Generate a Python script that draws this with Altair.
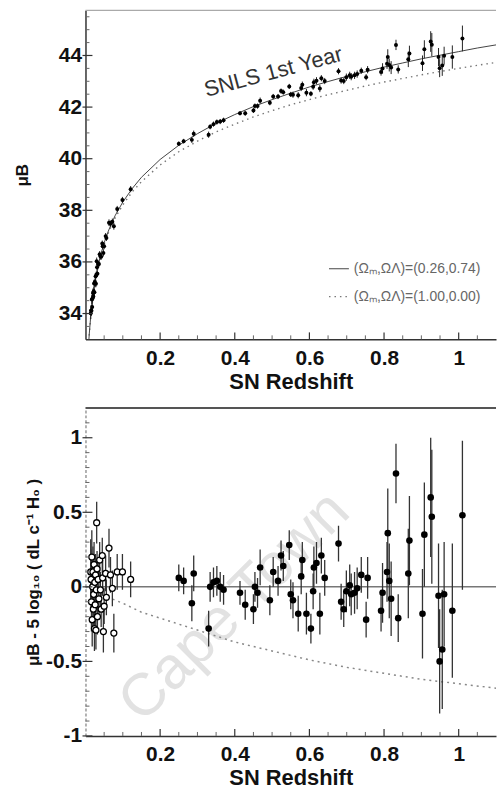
import altair as alt
import pandas as pd

# ---------------- data ----------------
# nearby (low-z) supernovae: redshift, residual, error, distance modulus
near_z = [0.014, 0.015, 0.016, 0.017, 0.018, 0.019, 0.020, 0.021, 0.022, 0.023,
          0.024, 0.025, 0.026, 0.027, 0.028, 0.029, 0.030, 0.031, 0.032, 0.034,
          0.036, 0.038, 0.040, 0.042, 0.045, 0.046, 0.048, 0.050, 0.054, 0.056,
          0.063, 0.067, 0.072, 0.076, 0.085, 0.099, 0.121]
near_res = [0.10, 0.05, -0.10, 0.20, -0.22, 0.00, 0.10, -0.15, -0.05, 0.15,
            -0.28, 0.03, -0.12, 0.08, -0.29, -0.02, 0.43, 0.12, -0.20, 0.05,
            -0.08, 0.18, -0.02, -0.15, 0.21, 0.06, -0.30, -0.13, 0.09, -0.07,
            0.26, 0.08, -0.01, -0.31, 0.10, 0.10, 0.05]
near_err = [0.22, 0.20, 0.20, 0.18, 0.18, 0.17, 0.17, 0.16, 0.16, 0.15,
            0.15, 0.14, 0.14, 0.14, 0.13, 0.13, 0.14, 0.12, 0.12, 0.12,
            0.12, 0.12, 0.12, 0.12, 0.12, 0.12, 0.14, 0.12, 0.12, 0.12,
            0.13, 0.12, 0.12, 0.13, 0.12, 0.12, 0.12]
near_mu = [34.01, 34.12, 34.11, 34.54, 34.25, 34.59, 34.80, 34.66, 34.86, 35.16,
           34.82, 35.22, 35.16, 35.44, 35.15, 35.50, 36.03, 35.79, 35.54, 35.92,
           35.92, 36.30, 36.22, 36.20, 36.71, 36.61, 36.35, 36.61, 37.00, 36.93,
           37.52, 37.48, 37.56, 37.38, 38.05, 38.40, 38.82]

# SNLS first-year supernovae
snls_z = [0.250, 0.263, 0.285, 0.290, 0.330, 0.334, 0.343, 0.352, 0.361, 0.370,
          0.414, 0.428, 0.450, 0.454, 0.461, 0.468, 0.494, 0.503, 0.516, 0.524,
          0.530, 0.546, 0.550, 0.556, 0.570, 0.578, 0.581, 0.592, 0.604, 0.610,
          0.612, 0.619, 0.628, 0.632, 0.641, 0.678, 0.685, 0.692, 0.699, 0.708,
          0.712, 0.721, 0.728, 0.739, 0.752, 0.756, 0.792, 0.796, 0.808, 0.810,
          0.814, 0.819, 0.832, 0.838, 0.865, 0.868, 0.903, 0.908, 0.925, 0.928,
          0.946, 0.949, 0.956, 0.961, 0.983, 1.010]
snls_res = [0.06, 0.04, -0.11, 0.09, -0.28, 0.00, 0.03, 0.04, 0.00, -0.02,
            -0.04, -0.12, -0.15, 0.00, -0.04, 0.13, -0.09, 0.10, 0.04, 0.21,
            0.14, 0.28, -0.05, -0.09, -0.18, 0.07, 0.18, -0.18, -0.28, -0.03,
            0.13, 0.16, -0.18, 0.21, 0.06, 0.29, -0.10, -0.15, -0.03, 0.01,
            -0.05, -0.04, -0.01, 0.08, -0.22, 0.06, -0.16, -0.04, 0.10, 0.36,
            0.04, -0.08, 0.76, -0.21, 0.09, 0.31, -0.18, 0.35, 0.60, 0.47,
            -0.06, -0.50, -0.42, -0.05, -0.16, 0.48]
snls_err = [0.09, 0.09, 0.12, 0.12, 0.12, 0.10, 0.10, 0.10, 0.10, 0.10,
            0.08, 0.10, 0.10, 0.10, 0.10, 0.12, 0.10, 0.10, 0.10, 0.10,
            0.10, 0.10, 0.10, 0.12, 0.12, 0.12, 0.12, 0.14, 0.10, 0.12,
            0.14, 0.14, 0.14, 0.12, 0.12, 0.12, 0.12, 0.12, 0.14, 0.14,
            0.14, 0.14, 0.14, 0.12, 0.12, 0.14, 0.14, 0.20, 0.20, 0.30,
            0.25, 0.25, 0.20, 0.16, 0.30, 0.30, 0.30, 0.35, 0.40, 0.45,
            0.35, 0.35, 0.40, 0.35, 0.45, 0.50]
snls_mu = [40.58, 40.68, 40.73, 40.97, 40.93, 41.24, 41.34, 41.42, 41.44, 41.49,
           41.76, 41.76, 41.87, 42.04, 42.04, 42.25, 42.17, 42.41, 42.41, 42.62,
           42.58, 42.80, 42.49, 42.48, 42.46, 42.74, 42.87, 42.56, 42.52, 42.79,
           42.96, 43.02, 42.72, 43.12, 43.01, 43.39, 43.03, 43.01, 43.16, 43.23,
           43.18, 43.23, 43.28, 43.41, 43.16, 43.45, 43.36, 43.50, 43.68, 43.94,
           43.63, 43.53, 44.41, 43.46, 43.85, 44.08, 43.70, 44.24, 44.54, 44.42,
           43.94, 43.51, 43.61, 43.99, 43.94, 44.66]

# model curves (top panel)
curve_z = [0.009, 0.01, 0.015, 0.02, 0.03, 0.04, 0.05, 0.06, 0.07, 0.08,
           0.1, 0.125, 0.15, 0.2, 0.25, 0.3, 0.35, 0.4, 0.45, 0.5,
           0.55, 0.6, 0.65, 0.7, 0.75, 0.8, 0.85, 0.9, 0.95, 1.0, 1.05, 1.1]
lcdm_mu = [32.95, 33.18, 34.07, 34.70, 35.60, 36.24, 36.74, 37.15, 37.50, 37.81,
           38.32, 38.84, 39.28, 39.97, 40.52, 40.97, 41.37, 41.71, 42.02, 42.29,
           42.54, 42.78, 42.99, 43.19, 43.37, 43.55, 43.71, 43.87, 44.01, 44.15, 44.29, 44.41]
eds_mu = [32.94, 33.16, 34.05, 34.67, 35.56, 36.19, 36.68, 37.08, 37.42, 37.72,
          38.21, 38.71, 39.11, 39.76, 40.27, 40.68, 41.04, 41.34, 41.62, 41.86,
          42.09, 42.29, 42.48, 42.65, 42.82, 42.97, 43.11, 43.25, 43.38, 43.50, 43.62, 43.73]

# Einstein-de Sitter curve relative to the fit (bottom panel)
res_curve_z = [0.0, 0.05, 0.1, 0.15, 0.2, 0.3, 0.4, 0.5, 0.6, 0.7, 0.8, 0.9, 1.0, 1.1]
eds_res = [0.0, -0.06, -0.11, -0.17, -0.21, -0.29, -0.37, -0.43, -0.49, -0.54, -0.58, -0.62, -0.65, -0.68]

# axis tick values
x_labels = [0.2, 0.4, 0.6, 0.8, 1.0]
x_minor = [0.05, 0.1, 0.15, 0.25, 0.3, 0.35, 0.45, 0.5, 0.55, 0.65, 0.7, 0.75,
           0.85, 0.9, 0.95, 1.05]
y1_labels = [34, 36, 38, 40, 42, 44]
y1_minor = [33.5, 34.5, 35, 35.5, 36.5, 37, 37.5, 38.5, 39, 39.5, 40.5, 41, 41.5,
            42.5, 43, 43.5, 44.5, 45, 45.5]
y2_labels = [-1, -0.5, 0, 0.5, 1]
y2_minor = [-0.9, -0.8, -0.7, -0.6, -0.4, -0.3, -0.2, -0.1, 0.1, 0.2, 0.3, 0.4,
            0.6, 0.7, 0.8, 0.9, 1.1]

legend_labels = ["(Ωₘ,ΩΛ)=(0.26,0.74)", "(Ωₘ,ΩΛ)=(1.00,0.00)"]
panel_label = "SNLS 1st Year"
watermark = "Cape Town"

# ---------------- tables ----------------
pts = pd.DataFrame({
    "z": near_z + snls_z,
    "mu": near_mu + snls_mu,
    "res": near_res + snls_res,
    "err": near_err + snls_err,
    "sample": ["nearby"] * len(near_z) + ["snls"] * len(snls_z),
})
curves = pd.DataFrame({"z": curve_z, "lcdm": lcdm_mu, "eds": eds_mu})
rescurve = pd.DataFrame({"z": res_curve_z, "res": eds_res})

W, H1, H2 = 413, 331, 330
FONT = "Liberation Sans"

xsc = alt.Scale(domain=[0, 1.1], nice=False, zero=False)
ysc1 = alt.Scale(domain=[33, 45.75], nice=False, zero=False)
ysc2 = alt.Scale(domain=[-1, 1.2], nice=False, zero=False)

xaxis = alt.Axis(values=x_labels, format="~g", title="SN Redshift", ticks=False,
                 labelPadding=8, titlePadding=3, labelFlush=False, labelOverlap=False,
                 domainColor="#333", domainWidth=1.5)
yaxis1 = alt.Axis(values=y1_labels, title="μB", ticks=False, labelPadding=4,
                  titlePadding=27, titleFontSize=17, labelFlush=False, labelOverlap=False,
                  domainColor="#333", domainWidth=1.5)
yaxis2 = alt.Axis(values=y2_labels, labelExpr="'' + datum.value",
                  title="μB - 5 log₁₀ ( dL c⁻¹ H₀ )", ticks=False, labelPadding=4,
                  titlePadding=3, titleFontSize=17, labelFlush=False, labelOverlap=False,
                  domainColor="#999", domainWidth=1.5, domainDash=[3, 2])

X = alt.X("z:Q", scale=xsc, axis=xaxis)


def ticks_layers(yfield_scale, yaxis, ymajor, yminor, H):
    ymaj = alt.Chart(pd.DataFrame({"t": ymajor})).mark_rule(color="#333", strokeWidth=1.2).encode(
        y=alt.Y("t:Q", scale=yfield_scale, axis=yaxis), x=alt.value(-3), x2=alt.value(7))
    ymin = alt.Chart(pd.DataFrame({"t": yminor})).mark_rule(color="#666", strokeWidth=1).encode(
        y=alt.Y("t:Q", scale=yfield_scale, axis=yaxis), x=alt.value(0), x2=alt.value(4))
    xmaj = alt.Chart(pd.DataFrame({"t": x_labels})).mark_rule(color="#333", strokeWidth=1.2).encode(
        x=alt.X("t:Q", scale=xsc, axis=xaxis), y=alt.value(H - 7), y2=alt.value(H))
    xmin = alt.Chart(pd.DataFrame({"t": x_minor})).mark_rule(color="#666", strokeWidth=1).encode(
        x=alt.X("t:Q", scale=xsc, axis=xaxis), y=alt.value(H - 4), y2=alt.value(H))
    return [ymaj, ymin, xmaj, xmin]


one = pd.DataFrame({"a": [0]})

# ---------------- top panel ----------------
Y1 = alt.Y("mu:Q", scale=ysc1, axis=yaxis1)
top_frame = alt.Chart(one).mark_rule(color="#aaa", strokeWidth=1.2).encode(
    x=alt.value(0), x2=alt.value(W), y=alt.value(0))
lcdm_line = alt.Chart(curves).mark_line(color="#444", strokeWidth=1, clip=True).encode(
    x=X, y=alt.Y("lcdm:Q", scale=ysc1, axis=yaxis1))
eds_line = alt.Chart(curves).mark_line(color="#777", strokeWidth=1.4, strokeDash=[1.5, 4], clip=True).encode(
    x=X, y=alt.Y("eds:Q", scale=ysc1, axis=yaxis1))
err1 = alt.Chart(pts).transform_calculate(
    lo="datum.mu - datum.err", hi="datum.mu + datum.err"
).mark_rule(color="#222", strokeWidth=1, clip=True).encode(
    x=X, y=alt.Y("lo:Q", scale=ysc1, axis=yaxis1), y2="hi:Q")
dots1 = alt.Chart(pts).mark_circle(size=16, color="black", opacity=1, clip=True).encode(x=X, y=Y1)
snls_txt = alt.Chart(one).mark_text(text=panel_label, font=FONT, fontSize=22, color="#333",
                                    angle=345, align="center", baseline="middle").encode(
    x=alt.value(189), y=alt.value(62))
leg_line1 = alt.Chart(one).mark_rule(color="#444", strokeWidth=1).encode(
    x=alt.value(245), x2=alt.value(265), y=alt.value(260))
leg_line2 = alt.Chart(one).mark_rule(color="#777", strokeWidth=1.4, strokeDash=[1.5, 4]).encode(
    x=alt.value(245), x2=alt.value(265), y=alt.value(288))
leg_txt1 = alt.Chart(one).mark_text(text=legend_labels[0], font=FONT, fontSize=14, color="#666",
                                    align="left", baseline="middle").encode(x=alt.value(270), y=alt.value(260))
leg_txt2 = alt.Chart(one).mark_text(text=legend_labels[1], font=FONT, fontSize=14, color="#666",
                                    align="left", baseline="middle").encode(x=alt.value(270), y=alt.value(288))

top = alt.layer(
    top_frame, eds_line, lcdm_line, err1, dots1, snls_txt,
    leg_line1, leg_line2, leg_txt1, leg_txt2,
    *ticks_layers(ysc1, yaxis1, y1_labels, y1_minor, H1)
).properties(width=W, height=H1)

# ---------------- bottom panel ----------------
Y2 = alt.Y("res:Q", scale=ysc2, axis=yaxis2)
wm = alt.Chart(one).mark_text(text=watermark, font=FONT, fontSize=60, color="#e2e2e2",
                              angle=315, align="center", baseline="middle", clip=True).encode(
    x=alt.value(150), y=alt.value(200))
frame2 = alt.Chart(one).mark_rule(color="#555", strokeWidth=2).encode(
    x=alt.value(0), x2=alt.value(W), y=alt.value(0))
zero = alt.Chart(pd.DataFrame({"res": [0.0]})).mark_rule(color="#777", strokeWidth=1.5).encode(
    y=Y2, x=alt.value(0), x2=alt.value(W))
eds_res_line = alt.Chart(rescurve).mark_line(color="#888", strokeWidth=1.5, strokeDash=[2, 4], clip=True).encode(
    x=X, y=Y2)
err2 = alt.Chart(pts).transform_calculate(
    lo="datum.res - datum.err", hi="datum.res + datum.err"
).mark_rule(color="#333", strokeWidth=1.3, clip=True).encode(
    x=X, y=alt.Y("lo:Q", scale=ysc2, axis=yaxis2), y2="hi:Q")
dots_snls = alt.Chart(pts).transform_filter("datum.sample == 'snls'").mark_circle(
    size=44, color="black", opacity=1, clip=True).encode(x=X, y=Y2)
dots_near = alt.Chart(pts).transform_filter("datum.sample == 'nearby'").mark_point(
    shape="circle", filled=True, fill="white", stroke="black", strokeWidth=1.3, size=36,
    opacity=1, clip=True).encode(x=X, y=Y2)

bottom = alt.layer(
    wm, frame2, zero, eds_res_line, err2, dots_near, dots_snls,
    *ticks_layers(ysc2, yaxis2, y2_labels, y2_minor, H2)
).properties(width=W, height=H2)

chart = alt.vconcat(top, bottom, spacing=15).properties(
    padding={"left": 13, "top": 7, "right": 0, "bottom": 0},
    background="white",
).configure_view(stroke=None).configure_axis(
    labelFont=FONT, labelFontWeight="bold", labelFontSize=21, labelColor="#111",
    titleFont=FONT, titleFontWeight="bold", titleFontSize=22, titleColor="#111",
    grid=False,
)

chart.save("out.html", embed_options={"renderer": "svg", "actions": False})
